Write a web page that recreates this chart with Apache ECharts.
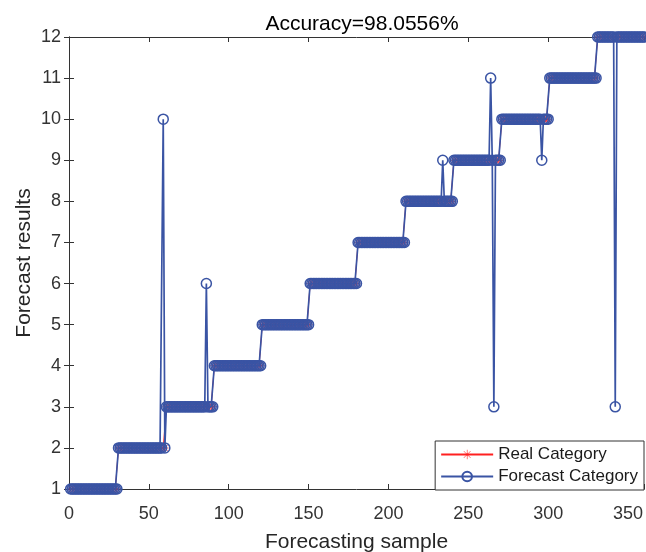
<!DOCTYPE html>
<html>
<head>
<meta charset="utf-8">
<script src="https://cdn.jsdelivr.net/npm/echarts@6/dist/echarts.min.js"></script>
<style>
  html, body { margin: 0; padding: 0; background: #fff; }
  #main { width: 646px; height: 552px; }
</style>
</head>
<body>
<div id="main"></div>
<script>
// real classes, 30 samples each, in order
var realCategories = [1, 2, 3, 4, 5, 6, 7, 8, 9, 10, 11, 12];
var samplesPerCategory = [30, 30, 30, 30, 30, 30, 30, 30, 30, 30, 30, 30];
// misclassified samples and what was predicted for them
var wrongSamples = [59, 86, 234, 264, 266, 296, 342];
var wrongPredictions = [10, 6, 9, 11, 3, 9, 3];
var lastXLabel = 350;

var FONT = 'Liberation Sans';
var BLUE = '#3a54a4';
var RED = '#ff2020';
var AXIS = '#333333';

// run-length expand the real labels
var realData = [];
var n = 1;
for (var c = 0; c < realCategories.length; c++) {
  for (var k = 0; k < samplesPerCategory[c]; k++) {
    realData.push([n, realCategories[c]]);
    n++;
  }
}
var forecastData = [];
for (var i = 0; i < realData.length; i++) {
  forecastData.push([realData[i][0], realData[i][1]]);
}
for (var j = 0; j < wrongSamples.length; j++) {
  forecastData[wrongSamples[j] - 1][1] = wrongPredictions[j];
}

var correct = realData.length - wrongSamples.length;
var accuracy = (correct / realData.length * 100).toFixed(4);

// asterisk marker
var star = 'path://M-0.6,-10L0.6,-10L0.6,10L-0.6,10Z' +
  'M-10,-0.6L10,-0.6L10,0.6L-10,0.6Z' +
  'M-7.5,-6.7L-6.7,-7.5L7.5,6.7L6.7,7.5Z' +
  'M6.7,-7.5L7.5,-6.7L-6.7,7.5L-7.5,6.7Z';

var chart = echarts.init(document.getElementById('main'));
chart.setOption({
  animation: false,
  textStyle: { fontFamily: FONT },
  title: {
    text: 'Accuracy=' + accuracy + '%',
    left: 357, top: 9, textAlign: 'center',
    textStyle: { fontFamily: FONT, fontSize: 21, fontWeight: 'normal', color: '#000' }
  },
  grid: { left: 69, right: 2, top: 37, bottom: 63, outerBoundsMode: 'none', containLabel: false },
  legend: {
    right: 2, bottom: 62,
    orient: 'vertical',
    itemWidth: 52, itemHeight: 12, itemGap: 5,
    padding: [5, 6, 5, 5],
    backgroundColor: '#fff',
    borderColor: AXIS, borderWidth: 1,
    textStyle: { fontFamily: FONT, fontSize: 17, color: '#1a1a1a' },
    data: ['Real Category', 'Forecast Category']
  },
  xAxis: [{
    type: 'value', min: 0, max: 360, interval: 50,
    name: 'Forecasting sample', nameLocation: 'middle', nameGap: 43,
    nameMoveOverlap: false,
    nameTextStyle: { fontFamily: FONT, fontSize: 21, color: '#262626' },
    axisLine: { lineStyle: { color: AXIS, width: 1 } },
    axisTick: { inside: true, length: 5, lineStyle: { color: AXIS } },
    axisLabel: {
      fontFamily: FONT, fontSize: 18, color: '#333', margin: 16,
      formatter: function (v) { return v > lastXLabel ? '' : String(v); }
    },
    splitLine: { show: false }
  }, {
    type: 'value', min: 0, max: 360, interval: 50, position: 'top',
    axisLine: { lineStyle: { color: AXIS, width: 1 } },
    axisTick: { inside: true, length: 5, lineStyle: { color: AXIS } },
    axisLabel: { show: false },
    splitLine: { show: false }
  }],
  yAxis: [{
    type: 'value', min: 1, max: 12, interval: 1,
    name: 'Forecast results', nameLocation: 'middle', nameGap: 34,
    nameMoveOverlap: false,
    nameTextStyle: { fontFamily: FONT, fontSize: 21, color: '#262626' },
    axisLine: { show: true, lineStyle: { color: AXIS, width: 1 } },
    axisTick: { show: true, inside: true, length: 5, lineStyle: { color: AXIS } },
    axisLabel: { fontFamily: FONT, fontSize: 18, color: '#333', margin: 8 },
    splitLine: { show: false }
  }, {
    type: 'value', min: 1, max: 12, interval: 1, position: 'right',
    axisLine: { show: true, lineStyle: { color: AXIS, width: 1 } },
    axisTick: { show: true, inside: true, length: 5, lineStyle: { color: AXIS } },
    axisLabel: { show: false },
    splitLine: { show: false }
  }],
  series: [{
    name: 'Real Category',
    type: 'line',
    data: realData,
    symbol: star,
    symbolSize: 8,
    showAllSymbol: true,
    lineStyle: { color: RED, width: 1 },
    itemStyle: { color: RED, borderWidth: 0 },
    emphasis: { disabled: true },
    z: 2
  }, {
    name: 'Forecast Category',
    type: 'line',
    data: forecastData,
    symbol: 'circle',
    symbolSize: 10,
    showAllSymbol: true,
    lineStyle: { color: BLUE, width: 1.7 },
    itemStyle: { color: 'transparent', borderColor: BLUE, borderWidth: 1.5 },
    emphasis: { disabled: true },
    z: 3
  }]
});
</script>
</body>
</html>
